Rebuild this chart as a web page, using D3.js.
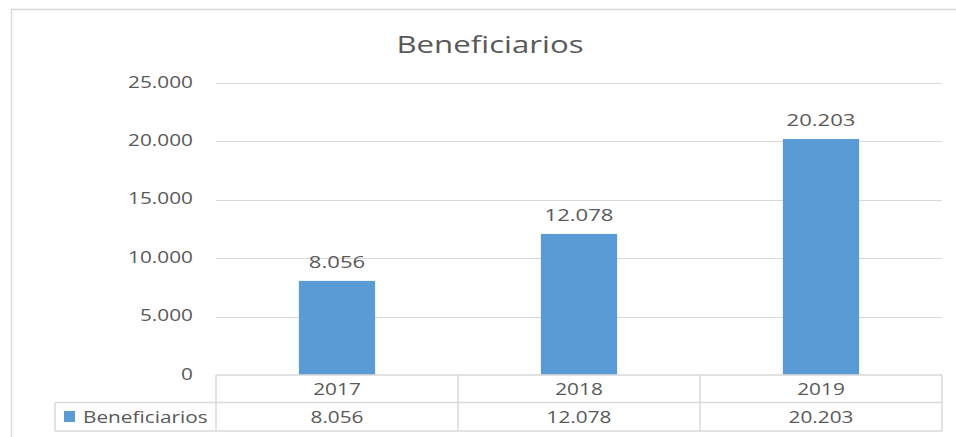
<!DOCTYPE html>
<html>
<head>
<meta charset="utf-8">
<script src="https://cdn.jsdelivr.net/npm/d3@7"></script>
<style>
  html, body { margin: 0; padding: 0; background: #fff; }
  #chart { width: 956px; height: 437px; }
  text { font-family: "Open Sans", "DejaVu Sans", sans-serif; fill: #595959; }
</style>
</head>
<body>
<div id="chart"></div>
<script>
// datos
const years = ['2017', '2018', '2019'];
const beneficiarios = [8056, 12078, 20203];
const yTicks = [0, 5000, 10000, 15000, 20000, 25000];
const seriesName = 'Beneficiarios';
const chartTitle = 'Beneficiarios';

const width = 956, height = 437;
const margin = { left: 216, right: 14, top: 83, bottom: 62 };
const sx = 1.3; // el texto original se ve estirado en horizontal

const es = d3.formatLocale({ decimal: ',', thousands: '.', grouping: [3], currency: ['', ' €'] });
const fmt = es.format(',d');

const pos = (px, py) => `translate(${px},${py}) scale(${sx},1)`;

const svg = d3.select('#chart').append('svg')
    .attr('width', width)
    .attr('height', height);

// marco exterior
svg.append('path')
    .attr('d', `M11.5,437 V9.5 H956`)
    .attr('fill', 'none')
    .attr('stroke', '#d9d9d9')
    .attr('stroke-width', 1.5);

const x = d3.scaleBand()
    .domain(years)
    .range([margin.left, width - margin.right])
    .paddingInner(0.685)
    .paddingOuter(0.3425);

// columnas de tabla = bandas completas
const cols = d3.scaleBand()
    .domain(years)
    .range([margin.left, width - margin.right]);

const y = d3.scaleLinear()
    .domain([0, 25000])
    .range([375, 83]);

// lineas de cuadricula
svg.append('g')
    .selectAll('line')
    .data(yTicks.filter(d => d > 0))
    .enter()
    .append('line')
    .attr('x1', margin.left)
    .attr('x2', width - margin.right)
    .attr('y1', d => Math.round(y(d)) + 0.5)
    .attr('y2', d => Math.round(y(d)) + 0.5)
    .attr('stroke', '#d9d9d9')
    .attr('stroke-width', 1);

// etiquetas eje y
svg.append('g')
    .selectAll('text')
    .data(yTicks)
    .enter()
    .append('text')
    .attr('transform', d => pos(193, y(d) - 1))
    .attr('dy', '0.35em')
    .attr('text-anchor', 'end')
    .style('font-size', '16px')
    .text(d => fmt(d));

// barras
svg.append('g')
    .selectAll('rect')
    .data(beneficiarios)
    .enter()
    .append('rect')
    .attr('x', (d, i) => x(years[i]))
    .attr('width', x.bandwidth())
    .attr('y', d => y(d))
    .attr('height', d => y(0) - y(d))
    .attr('fill', '#5b9bd5');

// etiquetas de datos
svg.append('g')
    .selectAll('text')
    .data(beneficiarios)
    .enter()
    .append('text')
    .attr('transform', (d, i) => pos(x(years[i]) + x.bandwidth() / 2, y(d) - 13))
    .attr('text-anchor', 'middle')
    .style('font-size', '17px')
    .text(d => fmt(d));

// titulo
svg.append('text')
    .attr('transform', pos(490, 53))
    .attr('text-anchor', 'middle')
    .style('font-size', '24px')
    .text(chartTitle);

// tabla de datos
const rowTop = 375, rowMid = 402.5, rowBot = 431;
const legendLeft = 55;
const tbl = svg.append('g')
    .attr('fill', 'none')
    .attr('stroke', '#d9d9d9')
    .attr('stroke-width', 1.5);

tbl.append('line')
    .attr('x1', margin.left).attr('x2', width - margin.right)
    .attr('y1', rowTop).attr('y2', rowTop);
tbl.append('line')
    .attr('x1', legendLeft).attr('x2', width - margin.right)
    .attr('y1', rowMid).attr('y2', rowMid);
tbl.append('line')
    .attr('x1', legendLeft).attr('x2', width - margin.right)
    .attr('y1', rowBot).attr('y2', rowBot);
tbl.append('line')
    .attr('x1', legendLeft).attr('x2', legendLeft)
    .attr('y1', rowMid).attr('y2', rowBot);

tbl.selectAll('.vline')
    .data(years.concat(['end']))
    .enter()
    .append('line')
    .attr('x1', (d, i) => i < years.length ? cols(d) : width - margin.right)
    .attr('x2', (d, i) => i < years.length ? cols(d) : width - margin.right)
    .attr('y1', rowTop)
    .attr('y2', rowBot);

// encabezado de años
svg.append('g')
    .selectAll('text')
    .data(years)
    .enter()
    .append('text')
    .attr('transform', d => pos(cols(d) + cols.bandwidth() / 2, (rowTop + rowMid) / 2))
    .attr('dy', '0.38em')
    .attr('text-anchor', 'middle')
    .style('font-size', '16px')
    .text(d => d);

// valores de tabla
svg.append('g')
    .selectAll('text')
    .data(beneficiarios)
    .enter()
    .append('text')
    .attr('transform', (d, i) => pos(cols(years[i]) + cols.bandwidth() / 2, (rowMid + rowBot) / 2))
    .attr('dy', '0.38em')
    .attr('text-anchor', 'middle')
    .style('font-size', '16px')
    .text(d => fmt(d));

// leyenda en tabla
svg.append('rect')
    .attr('x', 64)
    .attr('y', 411)
    .attr('width', 11)
    .attr('height', 11)
    .attr('fill', '#5b9bd5');

svg.append('text')
    .attr('transform', pos(83, (rowMid + rowBot) / 2))
    .attr('dy', '0.38em')
    .style('font-size', '16px')
    .text(seriesName);
</script>
</body>
</html>
